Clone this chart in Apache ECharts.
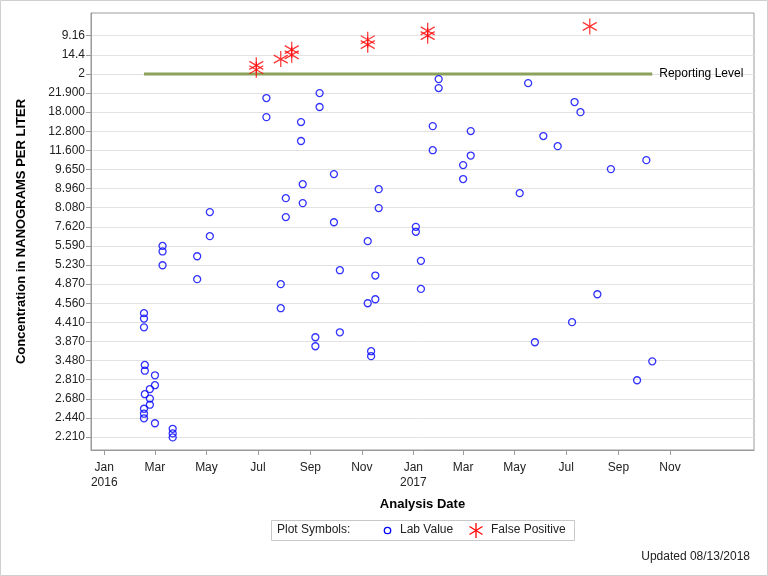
<!DOCTYPE html>
<html>
<head>
<meta charset="utf-8">
<script src="https://cdn.jsdelivr.net/npm/echarts@6/dist/echarts.min.js"></script>
<style>
html,body{margin:0;padding:0;background:#fff;}
#chart{width:768px;height:576px;}
</style>
</head>
<body>
<div id="chart"></div>
<script>
// ---- data ----
const yTickLabels = ['2.210','2.440','2.680','2.810','3.480','3.870','4.410','4.560','4.870','5.230','5.590','7.620','8.080','8.960','9.650','11.600','12.800','18.000','21.900','2','14.4','9.16'];
const xTickDates = ['2016-01-01','2016-03-01','2016-05-01','2016-07-01','2016-09-01','2016-11-01','2017-01-01','2017-03-01','2017-05-01','2017-07-01','2017-09-01','2017-11-01'];
const monthNames = ['Jan','Feb','Mar','Apr','May','Jun','Jul','Aug','Sep','Oct','Nov','Dec'];

const labDates = [
'2016-02-17','2016-02-17','2016-02-17','2016-02-18','2016-02-18','2016-03-01','2016-03-01','2016-02-24','2016-02-18','2016-02-24','2016-02-24','2016-02-17','2016-02-17','2016-02-17','2016-03-01','2016-03-22','2016-03-22','2016-03-22',
'2016-03-10','2016-03-10','2016-03-10','2016-04-20','2016-04-20','2016-05-05','2016-05-05',
'2016-07-11','2016-07-11','2016-08-21','2016-08-21','2016-09-12','2016-09-12','2016-08-23','2016-08-23','2016-08-03','2016-08-03','2016-07-28','2016-07-28','2016-09-07','2016-09-07','2016-09-29','2016-09-29','2016-10-06','2016-10-06',
'2016-11-21','2016-11-21','2016-11-08','2016-11-17','2016-11-17','2016-11-08','2016-11-12','2016-11-12',
'2017-01-04','2017-01-04','2017-01-10','2017-01-10','2017-01-24','2017-01-24','2017-01-31','2017-01-31','2017-03-01','2017-03-01','2017-03-10','2017-03-10',
'2017-05-07','2017-05-17','2017-05-25','2017-06-04','2017-06-21','2017-07-08','2017-07-11','2017-07-18','2017-08-07','2017-08-23','2017-09-23','2017-10-04','2017-10-11'];
const labValues = [
6.48,6.20,5.74,3.77,3.47,3.23,2.71,2.51,2.24,2.01,1.69,1.48,1.22,0.98,0.72,0.43,0.19,-0.02,
10.0,9.71,8.99,9.46,8.26,11.77,10.51,
17.74,16.74,16.48,15.49,18.0,17.27,13.23,12.24,12.50,11.51,8.00,6.74,5.22,4.75,13.76,11.24,8.73,5.48,
12.97,11.98,10.25,8.45,7.21,7.00,4.49,4.23,
11.0,10.74,9.22,7.75,16.27,15.01,18.73,18.26,14.23,13.50,16.01,14.73,
12.76,18.52,4.96,15.75,15.22,6.01,17.53,17.00,7.47,14.02,2.97,14.49,3.96];

const fpDates = ['2016-06-29','2016-06-29','2016-07-28','2016-08-10','2016-08-10','2016-11-08','2016-11-08','2017-01-18','2017-01-18','2017-07-29'];
const fpValues = [19.45,19.22,19.78,20.27,20.0,20.79,20.53,21.26,21.0,21.49];

const reportingDates = ['2016-02-17','2017-10-11'];
const reportingLevel = 19;   // position of the "2" tick
const reportingLabel = 'Reporting Level';

// ---- chart ----
const DAY = 86400000;
const t0 = Date.parse('2016-01-01');
const FONT = '"Liberation Sans", Arial, sans-serif';
const starPath = 'path://M7,0L7,16M0,4L14,12M0,12L14,4';
const starStroke = {stroke: '#ff0000', lineWidth: 1.3};

const chart = echarts.init(document.getElementById('chart'), null, {renderer: 'canvas'});
chart.setOption({
  animation: false,
  textStyle: {fontFamily: FONT},
  grid: {left: 91, top: 13, right: 14, bottom: 126, show: true, borderColor: '#9a9a9a', borderWidth: 1, containLabel: false},
  xAxis: {
    type: 'value',
    min: t0 - 15.75 * DAY,
    max: t0 + 769.5 * DAY,
    name: 'Analysis Date',
    nameLocation: 'middle',
    nameGap: 48,
    nameTextStyle: {fontFamily: FONT, fontSize: 13, fontWeight: 'bold', color: '#000'},
    axisLine: {show: true, onZero: false, lineStyle: {color: '#9a9a9a'}},
    axisTick: {show: true, inside: false, length: 5, lineStyle: {color: '#9a9a9a'}, customValues: xTickDates.map(d => Date.parse(d))},
    axisLabel: {
      customValues: xTickDates.map(d => Date.parse(d)),
      fontFamily: FONT, fontSize: 12, color: '#222', margin: 10, lineHeight: 15,
      formatter: v => { const d = new Date(v); const m = d.getUTCMonth(); return m === 0 ? monthNames[m] + '\n' + d.getUTCFullYear() : monthNames[m]; }
    },
    splitLine: {show: false}
  },
  yAxis: {
    type: 'value',
    min: -0.68,
    max: 22.19,
    name: 'Concentration in NANOGRAMS PER LITER',
    nameLocation: 'middle',
    nameGap: 63,
    nameTextStyle: {fontFamily: FONT, fontSize: 13, fontWeight: 'bold', color: '#000'},
    axisLine: {show: true, onZero: false, lineStyle: {color: '#9a9a9a'}},
    axisTick: {show: true, inside: false, length: 5, lineStyle: {color: '#9a9a9a'}, customValues: yTickLabels.map((_, i) => i)},
    axisLabel: {
      customValues: yTickLabels.map((_, i) => i),
      fontFamily: FONT, fontSize: 12, color: '#222', margin: 6,
      formatter: v => yTickLabels[Math.round(v)] || ''
    },
    splitLine: {show: true, lineStyle: {color: '#e2e2e2', width: 1}}
  },
  series: [
    {
      name: reportingLabel,
      type: 'line',
      data: reportingDates.map(d => [Date.parse(d), reportingLevel]),
      symbol: 'none',
      lineStyle: {color: '#8ca25a', width: 3},
      endLabel: {show: true, formatter: reportingLabel, color: '#000', fontFamily: FONT, fontSize: 12, distance: 7},
      z: 2
    },
    {
      name: 'Lab Value',
      type: 'scatter',
      data: labDates.map((d, i) => [Date.parse(d), labValues[i]]),
      symbol: 'circle',
      symbolSize: 7,
      itemStyle: {color: 'rgba(0,0,0,0)', borderColor: '#0000ff', borderWidth: 1.3},
      z: 3
    },
    {
      name: 'False Positive',
      type: 'scatter',
      data: fpDates.map((d, i) => [Date.parse(d), fpValues[i]]),
      symbol: starPath,
      symbolSize: [14, 16],
      itemStyle: {color: 'rgba(0,0,0,0)', borderColor: '#ff0000', borderWidth: 1.3},
      z: 4
    }
  ],
  graphic: [
    {type: 'rect', shape: {x: 0.5, y: 0.5, width: 767, height: 575}, style: {fill: 'none', stroke: '#cfcfcf', lineWidth: 1}, silent: true},
    {type: 'rect', shape: {x: 271.5, y: 520.5, width: 303, height: 20}, style: {fill: '#fff', stroke: '#c8c8c8', lineWidth: 1}, silent: true},
    {type: 'text', x: 277, y: 524, style: {text: 'Plot Symbols:', font: '12px ' + FONT, fill: '#222'}},
    {type: 'circle', shape: {cx: 387.5, cy: 530.5, r: 3.2}, style: {fill: 'none', stroke: '#0000ff', lineWidth: 1.3}},
    {type: 'text', x: 400, y: 524, style: {text: 'Lab Value', font: '12px ' + FONT, fill: '#222'}},
    {type: 'line', shape: {x1: 476, y1: 523, x2: 476, y2: 538}, style: starStroke},
    {type: 'line', shape: {x1: 469.5, y1: 526.5, x2: 482.5, y2: 534.5}, style: starStroke},
    {type: 'line', shape: {x1: 469.5, y1: 534.5, x2: 482.5, y2: 526.5}, style: starStroke},
    {type: 'text', x: 491, y: 524, style: {text: 'False Positive', font: '12px ' + FONT, fill: '#222'}},
    {type: 'text', x: 750, y: 551, style: {text: 'Updated 08/13/2018', font: '12px ' + FONT, fill: '#222', align: 'right'}}
  ]
});
</script>
</body>
</html>
